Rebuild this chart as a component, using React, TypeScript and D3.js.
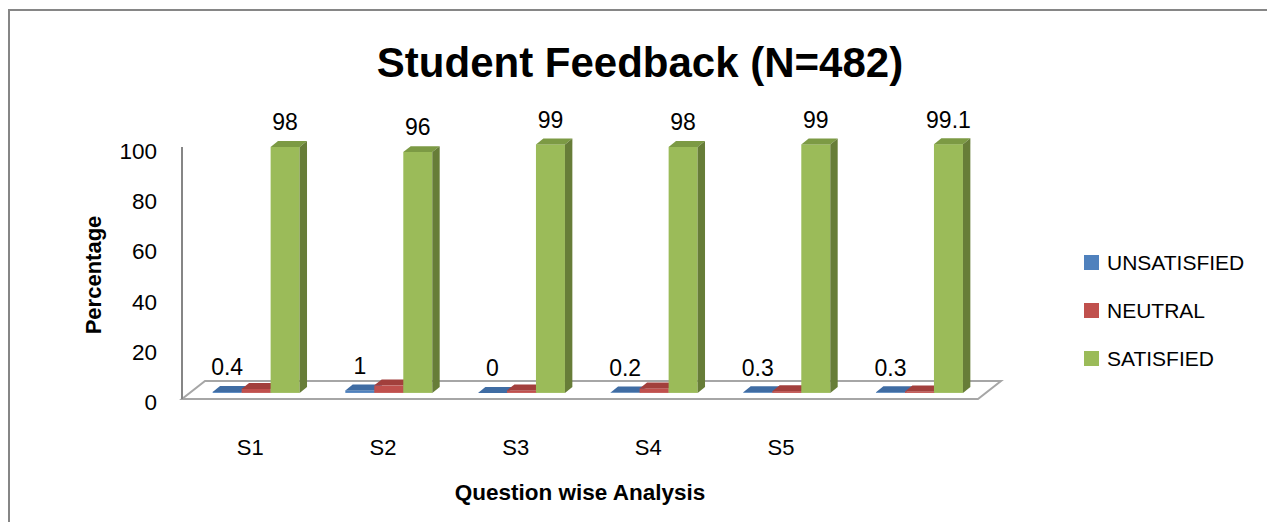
import React from "react";
import * as d3 from "d3";

const categories = ["S1", "S2", "S3", "S4", "S5", "S6"];
const categoryLabels = ["S1", "S2", "S3", "S4", "S5", ""];
const seriesNames = ["UNSATISFIED", "NEUTRAL", "SATISFIED"];
const unsatisfied = [0.4, 1, 0, 0.2, 0.3, 0.3];
const neutral = [1.6, 3, 1, 1.8, 0.7, 0.6];
const satisfied = [98, 96, 99, 98, 99, 99.1];
const yTicks = [0, 20, 40, 60, 80, 100];
const labelledSeries = ["UNSATISFIED", "SATISFIED"];

const seriesValues: Record<string, number[]> = {
  UNSATISFIED: unsatisfied,
  NEUTRAL: neutral,
  SATISFIED: satisfied,
};

const colors: Record<string, { front: string; top: string; side: string }> = {
  UNSATISFIED: { front: "#4f81bd", top: "#3f6ca3", side: "#385d8a" },
  NEUTRAL: { front: "#c0504d", top: "#a23f3c", side: "#8c3836" },
  SATISFIED: { front: "#9bbb59", top: "#7c9a44", side: "#677d38" },
};

const FONT = "'Liberation Sans', Arial, sans-serif";

export default function App() {
  const W = 1267;
  const H = 522;
  const floorLeft = 182;
  const floorRight = 978;
  const floorFront = 399;
  const depthX = 23;
  const depthY = -18;
  const barDX = 7.4;
  const barDY = -5.8;

  const x = d3.scaleBand<string>().domain(categories).range([floorLeft, floorRight]);
  const sub = d3
    .scaleBand<string>()
    .domain(seriesNames)
    .range([0, x.bandwidth()])
    .paddingInner(0)
    .paddingOuter(0.788);
  const y = d3.scaleLinear().domain([0, 100]).range([floorFront, floorFront - 251]);

  const shiftX = depthX / 2 - barDX / 2;
  const shiftY = depthY / 2 - barDY / 2;

  const bars: JSX.Element[] = [];
  const labels: JSX.Element[] = [];
  categories.forEach((c, i) => {
    seriesNames.forEach((s) => {
      const v = seriesValues[s][i];
      const x0 = (x(c) as number) + (sub(s) as number) + shiftX;
      const w = sub.bandwidth();
      const bottom = y(0) + shiftY;
      const top = y(v) + shiftY;
      const col = colors[s];
      const pts = (p: number[][]) => p.map((q) => q.join(",")).join(" ");
      bars.push(
        <g key={`${c}-${s}`}>
          <rect x={x0} y={top} width={w} height={bottom - top} fill={col.front} />
          <polygon
            points={pts([
              [x0, top],
              [x0 + w, top],
              [x0 + w + barDX, top + barDY],
              [x0 + barDX, top + barDY],
            ])}
            fill={col.top}
          />
          <polygon
            points={pts([
              [x0 + w, top],
              [x0 + w + barDX, top + barDY],
              [x0 + w + barDX, bottom + barDY],
              [x0 + w, bottom],
            ])}
            fill={col.side}
          />
        </g>
      );
      if (labelledSeries.includes(s)) {
        labels.push(
          <text
            key={`l-${c}-${s}`}
            x={x0 + w / 2}
            y={top - 24.5 + 8}
            textAnchor="middle"
            fontSize={23}
            fontFamily={FONT}
            fill="#000"
          >
            {String(v)}
          </text>
        );
      }
    });
  });

  return (
    <svg
      width={W}
      height={H}
      style={{ position: "absolute", left: 0, top: 0, background: "#fff" }}
    >
      <rect x={0} y={0} width={W} height={H} fill="#fff" />
      <rect x={9} y={10} width={W + 20} height={H + 20} fill="none" stroke="#868686" strokeWidth={2} />

      <text
        x={640}
        y={77}
        textAnchor="middle"
        fontSize={42}
        fontWeight="bold"
        fontFamily={FONT}
        fill="#000"
      >
        Student Feedback (N=482)
      </text>

      {/* floor */}
      <polygon
        points={[
          [floorLeft, floorFront],
          [floorRight, floorFront],
          [floorRight + depthX, floorFront + depthY],
          [floorLeft + depthX, floorFront + depthY],
        ]
          .map((q) => q.join(","))
          .join(" ")}
        fill="#fff"
        stroke="#a6a6a6"
        strokeWidth={2}
      />
      {/* value axis line */}
      <line x1={floorLeft} x2={floorLeft} y1={y(100) - 1} y2={floorFront} stroke="#868686" strokeWidth={2} />

      {yTicks.map((t) => (
        <text
          key={`t-${t}`}
          x={157}
          y={y(t) + 3 + 8}
          textAnchor="end"
          fontSize={22.5}
          fontFamily={FONT}
          fill="#000"
        >
          {t}
        </text>
      ))}

      {bars}
      {labels}

      {categories.map((c, i) => (
        <text
          key={`c-${c}`}
          x={(x(c) as number) + x.bandwidth() / 2 + 2}
          y={446.5 + 8}
          textAnchor="middle"
          fontSize={22}
          fontFamily={FONT}
          fill="#000"
        >
          {categoryLabels[i]}
        </text>
      ))}

      <text
        x={(floorLeft + floorRight) / 2}
        y={492 + 8}
        textAnchor="middle"
        fontSize={22.5}
        fontWeight="bold"
        fontFamily={FONT}
        fill="#000"
      >
        Question wise Analysis
      </text>
      <text
        transform={`translate(${93 + 8},275) rotate(-90)`}
        textAnchor="middle"
        fontSize={22}
        fontWeight="bold"
        fontFamily={FONT}
        fill="#000"
      >
        Percentage
      </text>

      {seriesNames.map((s, i) => (
        <g key={`lg-${s}`} transform={`translate(1084,${255 + i * 48})`}>
          <rect x={0} y={0} width={15} height={15} fill={colors[s].front} />
          <text x={23} y={7.5 + 7.5} fontSize={21} fontFamily={FONT} fill="#000">
            {s}
          </text>
        </g>
      ))}
    </svg>
  );
}
